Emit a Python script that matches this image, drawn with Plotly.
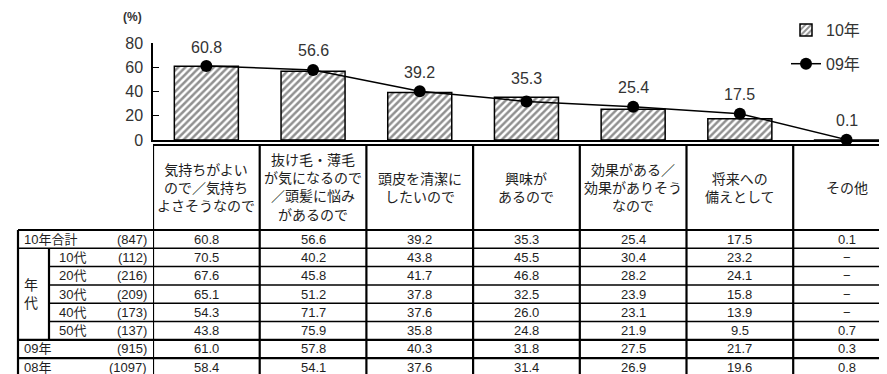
import plotly.graph_objects as go

# column headers (reasons)
categories = [
    "気持ちがよい<br>ので／気持ち<br>よさそうなので",
    "抜け毛・薄毛<br>が気になるので<br>／頭髪に悩み<br>があるので",
    "頭皮を清潔に<br>したいので",
    "興味が<br>あるので",
    "効果がある／<br>効果がありそう<br>なので",
    "将来への<br>備えとして",
    "その他",
]

# table rows (%), None = "−"
total_10 = [60.8, 56.6, 39.2, 35.3, 25.4, 17.5, 0.1]
age_10s = [70.5, 40.2, 43.8, 45.5, 30.4, 23.2, None]
age_20s = [67.6, 45.8, 41.7, 46.8, 28.2, 24.1, None]
age_30s = [65.1, 51.2, 37.8, 32.5, 23.9, 15.8, None]
age_40s = [54.3, 71.7, 37.6, 26.0, 23.1, 13.9, None]
age_50s = [43.8, 75.9, 35.8, 24.8, 21.9, 9.5, 0.7]
total_09 = [61.0, 57.8, 40.3, 31.8, 27.5, 21.7, 0.3]
total_08 = [58.4, 54.1, 37.6, 31.4, 26.9, 19.6, 0.8]

row_labels = ["10年合計", "10代", "20代", "30代", "40代", "50代", "09年", "08年"]
row_counts = ["(847)", "(112)", "(216)", "(209)", "(173)", "(137)", "(915)", "(1097)"]
table_rows = [total_10, age_10s, age_20s, age_30s, age_40s, age_50s, total_09, total_08]

y_ticks = [0, 20, 40, 60, 80]

W, H = 887, 374
OFF = 8  # page body margin
FW, FH = W - OFF, H - OFF
FONT = "Arial, Liberation Sans, Noto Sans CJK JP"
TXT = "#1e1e1e"


# screen pixel -> paper coords
def px(p):
    return (p - OFF) / FW


def py(p):
    return 1 - (p - OFF) / FH


col_w = 106.7
x_left = 153
x_range = [-0.5, -0.5 + (W - x_left) / col_w]
xs = list(range(len(categories)))

fig = go.Figure()
fig.add_trace(go.Bar(
    x=xs, y=total_10, name="10年", width=0.6, legendgroup="a",
    marker=dict(color="white", line=dict(color="black", width=1.5),
                pattern=dict(shape="/", fgcolor="#222222", bgcolor="white", size=5, solidity=0.5)),
))
fig.add_trace(go.Scatter(
    x=xs, y=total_09, name="09年", mode="lines+markers", cliponaxis=False, legendgroup="b",
    line=dict(color="black", width=1.5),
    marker=dict(color="black", size=12),
))

# value labels above bars
for i, v in enumerate(total_10):
    fig.add_annotation(x=i, y=max(v, total_09[i]), text=f"{v:.1f}", showarrow=False,
                       yshift=19, yanchor="middle", font=dict(size=16, color="#333333", family=FONT))

fig.add_annotation(x=px(132), y=py(17), xref="paper", yref="paper", text="<b>(%)</b>", showarrow=False,
                   xanchor="center", yanchor="middle", font=dict(size=12, color="#333333", family=FONT))

shapes = []
line = dict(color="black", width=1.5)
thick = dict(color="black", width=2.2)
# header top
shapes.append(dict(type="line", xref="paper", yref="paper", x0=px(x_left), x1=1, y0=py(145), y1=py(145), line=thick))
# vertical column lines
for i in range(len(categories) + 1):
    shapes.append(dict(type="line", xref="x", yref="paper", x0=i - 0.5, x1=i - 0.5,
                       y0=py(145), y1=0, line=thick))
row_top = 230
row_h = 18.3
# left borders
shapes.append(dict(type="line", xref="paper", yref="paper", x0=px(18), x1=px(18), y0=py(row_top), y1=0, line=thick))
shapes.append(dict(type="line", xref="paper", yref="paper", x0=px(49), x1=px(49),
                   y0=py(row_top + row_h), y1=py(row_top + 6 * row_h), line=thick))
for k in range(len(table_rows)):
    yy = row_top + k * row_h
    x0 = px(49) if 2 <= k <= 5 else px(18)
    shapes.append(dict(type="line", xref="paper", yref="paper", x0=x0, x1=1, y0=py(yy), y1=py(yy),
                       line=thick if k in (0, 6, 7) else line))

# header text
for i, c in enumerate(categories):
    fig.add_annotation(x=i, y=py((145 + row_top) / 2), yref="paper", text=c, showarrow=False,
                       xanchor="center", yanchor="middle",
                       font=dict(size=14, color=TXT, family=FONT), align="center")

# table body
for k, (lab, n, vals) in enumerate(zip(row_labels, row_counts, table_rows)):
    yc = py(row_top + (k + 0.5) * row_h)
    lx = 57 if 1 <= k <= 5 else 22
    fig.add_annotation(x=px(lx), y=yc, xref="paper", yref="paper", text=lab, showarrow=False,
                       xanchor="left", yanchor="middle", font=dict(size=13, color=TXT, family=FONT))
    fig.add_annotation(x=px(149), y=yc, xref="paper", yref="paper", text=n, showarrow=False,
                       xanchor="right", yanchor="middle", font=dict(size=13, color=TXT, family=FONT))
    for i, v in enumerate(vals):
        fig.add_annotation(x=i, y=yc, yref="paper", text="−" if v is None else f"{v:.1f}",
                           showarrow=False, xanchor="center", yanchor="middle",
                           font=dict(size=13, color=TXT, family=FONT))
fig.add_annotation(x=px(31), y=py(row_top + 3.5 * row_h), xref="paper", yref="paper", text="年<br>代",
                   showarrow=False, xanchor="center", yanchor="middle",
                   font=dict(size=14, color=TXT, family=FONT))

fig.update_layout(
    width=FW, height=FH, margin=dict(l=0, r=0, t=0, b=0, pad=0, autoexpand=False),
    plot_bgcolor="white", paper_bgcolor="white",
    font=dict(family=FONT, color=TXT),
    shapes=shapes,
    legend=dict(x=px(786), y=py(13), xanchor="left", yanchor="top", font=dict(size=16, color="#333333"),
                bgcolor="rgba(0,0,0,0)", traceorder="grouped", tracegroupgap=10),
    xaxis=dict(domain=[px(x_left), 1], range=x_range, showline=True, linecolor="black", linewidth=1.5,
               showticklabels=False, ticks="", showgrid=False, zeroline=False, automargin=False),
    yaxis=dict(domain=[py(140), py(43)], range=[0, 80], tickvals=y_ticks, showline=True,
               linecolor="black", linewidth=1.5, ticks="inside", ticklen=6, tickcolor="black",
               ticklabelstandoff=5, showgrid=False, zeroline=False, automargin=False,
               tickfont=dict(size=16, color="#333333")),
)

fig.write_html("out.html")
